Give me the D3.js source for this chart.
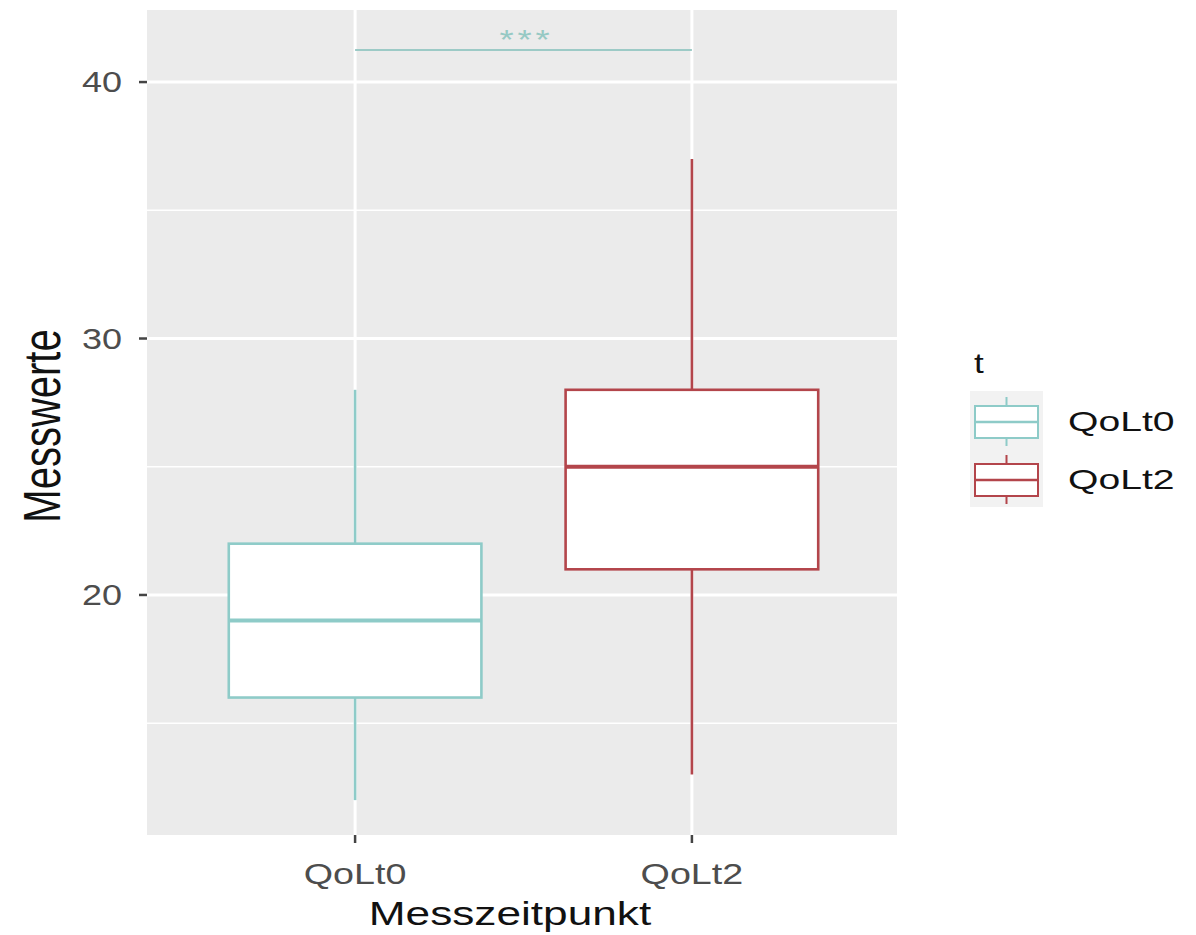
<!DOCTYPE html>
<html>
<head>
<meta charset="utf-8">
<script src="https://cdn.jsdelivr.net/npm/d3@7"></script>
<style>
  html, body { margin: 0; padding: 0; background: #fff; }
  text { font-family: "Liberation Sans", Arial, sans-serif; }
</style>
</head>
<body>
<svg id="chart" width="1196" height="935"></svg>
<script>
// ---- data ----
const categories = ["QoLt0", "QoLt2"];
const whiskerLow  = [12, 13];
const q1          = [16, 21];
const median      = [19, 25];
const q3          = [22, 28];
const whiskerHigh = [28, 37];
const colors      = ["#8ecbc8", "#b3454b"];
const yMajorTicks = [20, 30, 40];
const yMinorTicks = [15, 25, 35];
const sigLabel = "***";
const sigY = 41.25;
const xTitle = "Messzeitpunkt";
const yTitle = "Messwerte";
const legendTitle = "t";

// ---- layout ----
const panel = {left: 147, right: 897, top: 10, bottom: 835};
const svg = d3.select("#chart");
const SX = 1.3; // horizontal text stretch seen in reference

const x = d3.scalePoint().domain(categories).range([153, 894]).padding(0.6);
const y = d3.scaleLinear().domain([10.64, 42.81]).range([panel.bottom, panel.top]);
const boxW = x.step() * 0.75;

// panel background
svg.append("rect")
  .attr("x", panel.left).attr("y", panel.top)
  .attr("width", panel.right - panel.left).attr("height", panel.bottom - panel.top)
  .attr("fill", "#ebebeb");

// gridlines
svg.selectAll(".minor").data(yMinorTicks).join("line")
  .attr("x1", panel.left).attr("x2", panel.right)
  .attr("y1", d => y(d)).attr("y2", d => y(d))
  .attr("stroke", "#fff").attr("stroke-width", 1.6);
svg.selectAll(".major").data(yMajorTicks).join("line")
  .attr("x1", panel.left).attr("x2", panel.right)
  .attr("y1", d => y(d)).attr("y2", d => y(d))
  .attr("stroke", "#fff").attr("stroke-width", 3);
svg.selectAll(".vmajor").data(categories).join("line")
  .attr("x1", d => x(d)).attr("x2", d => x(d))
  .attr("y1", panel.top).attr("y2", panel.bottom)
  .attr("stroke", "#fff").attr("stroke-width", 3);

// boxes
const boxes = categories.map((c, i) => ({
  c, lo: whiskerLow[i], q1: q1[i], med: median[i], q3: q3[i], hi: whiskerHigh[i], color: colors[i]
}));
const g = svg.append("g");
boxes.forEach(b => {
  const cx = x(b.c);
  g.append("line").attr("x1", cx).attr("x2", cx).attr("y1", y(b.hi)).attr("y2", y(b.q3))
    .attr("stroke", b.color).attr("stroke-width", 2.6);
  g.append("line").attr("x1", cx).attr("x2", cx).attr("y1", y(b.q1)).attr("y2", y(b.lo))
    .attr("stroke", b.color).attr("stroke-width", 2.6);
  g.append("rect").attr("x", cx - boxW / 2).attr("y", y(b.q3))
    .attr("width", boxW).attr("height", y(b.q1) - y(b.q3))
    .attr("fill", "#fff").attr("stroke", b.color).attr("stroke-width", 2.6);
  g.append("line").attr("x1", cx - boxW / 2).attr("x2", cx + boxW / 2)
    .attr("y1", y(b.med)).attr("y2", y(b.med))
    .attr("stroke", b.color).attr("stroke-width", 4);
});

// significance bracket
svg.append("line")
  .attr("x1", x(categories[0])).attr("x2", x(categories[1]))
  .attr("y1", y(sigY)).attr("y2", y(sigY))
  .attr("stroke", "#9ccac6").attr("stroke-width", 2);
svg.append("text")
  .attr("transform", `translate(${(x(categories[0]) + x(categories[1])) / 2 + 3},${y(sigY) - 1}) scale(${SX},1)`)
  .attr("text-anchor", "middle").attr("font-size", 28).attr("letter-spacing", 3)
  .attr("fill", "#96c9c4")
  .text(sigLabel);

// y axis ticks
svg.selectAll(".ytick").data(yMajorTicks).join("line")
  .attr("x1", panel.left - 8).attr("x2", panel.left)
  .attr("y1", d => y(d)).attr("y2", d => y(d))
  .attr("stroke", "#444").attr("stroke-width", 2.5);
svg.selectAll(".ylab").data(yMajorTicks).join("text")
  .attr("transform", d => `translate(122,${y(d)}) scale(1.2,1)`)
  .attr("text-anchor", "end").attr("dominant-baseline", "central")
  .attr("font-size", 30).attr("fill", "#4d4d4d")
  .text(d => d);

// x axis ticks
svg.selectAll(".xtick").data(categories).join("line")
  .attr("x1", d => x(d)).attr("x2", d => x(d))
  .attr("y1", panel.bottom).attr("y2", panel.bottom + 8)
  .attr("stroke", "#444").attr("stroke-width", 2.5);
svg.selectAll(".xlab").data(categories).join("text")
  .attr("transform", d => `translate(${x(d)},884) scale(${SX},1)`)
  .attr("text-anchor", "middle")
  .attr("font-size", 29).attr("fill", "#4d4d4d")
  .text(d => d);

// axis titles
svg.append("text")
  .attr("transform", `translate(510,925) scale(${SX},1)`)
  .attr("text-anchor", "middle").attr("font-size", 34).attr("fill", "#111")
  .text(xTitle);
svg.append("text")
  .attr("transform", `translate(60,426) scale(${SX},1) rotate(-90)`)
  .attr("text-anchor", "middle").attr("font-size", 40).attr("fill", "#111")
  .text(yTitle);

// legend
svg.append("text")
  .attr("transform", `translate(974,373) scale(${SX},1)`)
  .attr("font-size", 27).attr("fill", "#111")
  .text(legendTitle);
const keyX = 970, keyW = 73, keyH = 58, keyY0 = 391;
boxes.forEach((b, i) => {
  const ky = keyY0 + i * keyH;
  const kcx = keyX + keyW / 2;
  const bTop = ky + 15, bBot = ky + keyH - 11;
  svg.append("rect").attr("x", keyX).attr("y", ky).attr("width", keyW).attr("height", keyH)
    .attr("fill", "#f2f2f2");
  svg.append("line").attr("x1", kcx).attr("x2", kcx).attr("y1", ky + 6).attr("y2", ky + keyH - 3)
    .attr("stroke", b.color).attr("stroke-width", 2);
  svg.append("rect").attr("x", keyX + 5).attr("y", bTop).attr("width", keyW - 10).attr("height", bBot - bTop)
    .attr("fill", "#fff").attr("stroke", b.color).attr("stroke-width", 2);
  svg.append("line").attr("x1", keyX + 5).attr("x2", keyX + keyW - 5)
    .attr("y1", (bTop + bBot) / 2).attr("y2", (bTop + bBot) / 2)
    .attr("stroke", b.color).attr("stroke-width", 2.5);
  svg.append("text")
    .attr("transform", `translate(1068,${(bTop + bBot) / 2}) scale(1.45,1)`)
    .attr("dominant-baseline", "central")
    .attr("font-size", 27).attr("fill", "#111")
    .text(b.c);
});
</script>
</body>
</html>
